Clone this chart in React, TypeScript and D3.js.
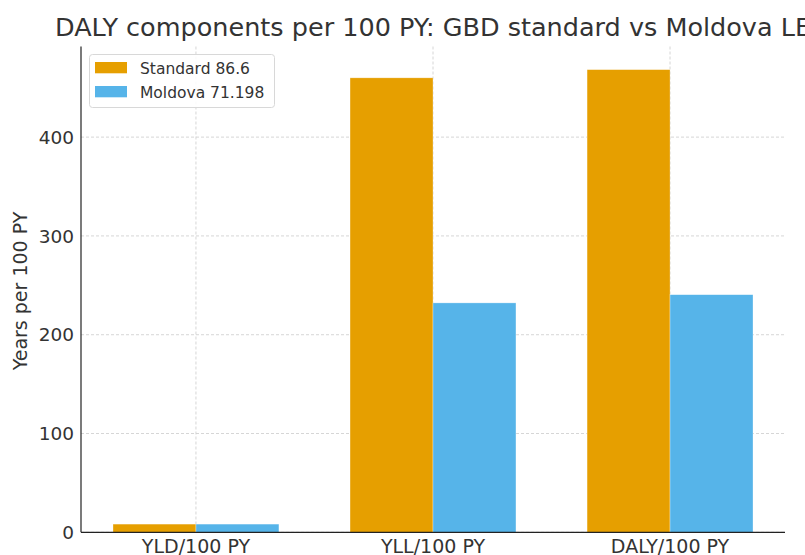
import React from "react";
import * as d3 from "d3";

const categories = ["YLD/100 PY", "YLL/100 PY", "DALY/100 PY"];
const seriesNames = ["Standard 86.6", "Moldova 71.198"];
const standardValues = [8.3, 460.0, 468.3];
const moldovaValues = [8.3, 232.2, 240.5];
const yTicks = [0, 100, 200, 300, 400];
const colors = ["#E69F00", "#56B4E9"];

const W = 805;
const H = 555;
const left = 81;
const right = 785;
const top = 46.5;
const bottom = 532.3;
const FONT = "DejaVu Sans, sans-serif";

export default function App() {
  const barW = 0.35;
  const x = d3.scaleLinear().domain([-0.485, 2.485]).range([left, right]);
  const maxV = d3.max([...standardValues, ...moldovaValues]) as number;
  const y = d3.scaleLinear().domain([0, maxV * 1.05]).range([bottom, top]);
  const series = [standardValues, moldovaValues];
  const textColor = "#333333";

  return (
    <svg width={W} height={H} style={{ position: "absolute", left: 0, top: 0, background: "#fff" }}>
      <rect width={W} height={H} fill="#fff" />
      {/* grid */}
      {yTicks.map((t) => (
        <line key={"gy" + t} x1={left} x2={right} y1={y(t)} y2={y(t)} stroke="#cccccc" strokeWidth={0.8} strokeDasharray="3,2" />
      ))}
      {categories.map((c, i) => (
        <line key={"gx" + i} x1={x(i)} x2={x(i)} y1={top} y2={bottom} stroke="#cccccc" strokeWidth={0.8} strokeDasharray="3,2" />
      ))}
      {/* bars */}
      {series.map((vals, s) =>
        vals.map((v, i) => {
          const x0 = s === 0 ? x(i - barW) : x(i);
          const x1 = s === 0 ? x(i) : x(i + barW);
          return (
            <rect
              key={`b${s}-${i}`}
              x={x0}
              y={y(v)}
              width={x1 - x0}
              height={bottom - y(v)}
              fill={colors[s]}
              stroke="#ffffff"
              strokeOpacity={0.5}
              strokeWidth={0.6}
            />
          );
        })
      )}
      {/* axes */}
      <line x1={left} x2={left} y1={top} y2={bottom} stroke="#222" strokeWidth={1.2} />
      <line x1={left} x2={right} y1={bottom} y2={bottom} stroke="#222" strokeWidth={1.2} />
      {yTicks.map((t) => (
        <text key={"yt" + t} x={left - 7} y={y(t)} dy="0.36em" textAnchor="end" fontFamily={FONT} fontSize={18.5} fill={textColor}>
          {t}
        </text>
      ))}
      {categories.map((c, i) => (
        <text key={"xt" + i} x={x(i)} y={553} textAnchor="middle" fontFamily={FONT} fontSize={19} fill={textColor}>
          {c}
        </text>
      ))}
      <text
        transform={`translate(27, 291) rotate(-90)`}
        textAnchor="middle"
        fontFamily={FONT}
        fontSize={19}
        fill={textColor}
      >
        Years per 100 PY
      </text>
      <text x={(left + right) / 2} y={36} textAnchor="middle" fontFamily={FONT} fontSize={25.5} fill={textColor}>
        DALY components per 100 PY: GBD standard vs Moldova LE
      </text>
      {/* legend */}
      <g>
        <rect x={89.5} y={54.5} width={185} height={53} rx={3} fill="#fff" fillOpacity={0.85} stroke="#d8d8d8" strokeWidth={1} />
        {seriesNames.map((n, s) => (
          <g key={"lg" + s}>
            <rect x={95} y={62 + s * 24} width={32} height={11.3} fill={colors[s]} />
            <text x={140} y={73.7 + s * 23.8} fontFamily={FONT} fontSize={15.5} fill={textColor}>
              {n}
            </text>
          </g>
        ))}
      </g>
    </svg>
  );
}
